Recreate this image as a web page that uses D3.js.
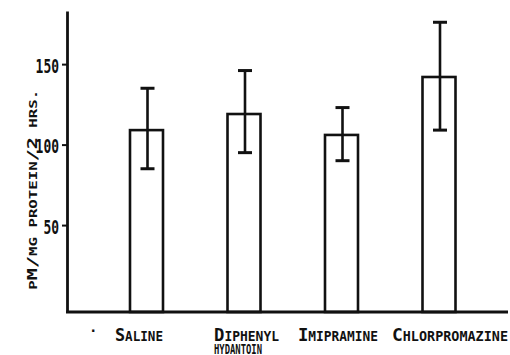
<!DOCTYPE html>
<html>
<head>
<meta charset="utf-8">
<script src="https://cdn.jsdelivr.net/npm/d3@7"></script>
<style>
  body { margin: 0; background: #fff; }
  text { font-family: "DejaVu Sans Mono", monospace; font-weight: bold; fill: #111; }
</style>
</head>
<body>
<div id="chart"></div>
<script>
// values
const categories = ["Saline", "Diphenyl Hydantoin", "Imipramine", "Chlorpromazine"]
const labelLines = [["Saline"], ["Diphenyl", "hydantoin"], ["Imipramine"], ["Chlorpromazine"]]
const means = [109, 119, 106, 142]
const errLow = [85, 95, 90, 109]
const errHigh = [135, 146, 123, 176]
const yTicks = [50, 100, 150]
const yTitle = "pM/mg protein/2 hrs."

const width = 510
const height = 355
const ink = "#111"

const svg = d3.select("#chart")
  .append("svg")
  .attr("width", width)
  .attr("height", height)

const yScale = d3.scaleLinear()
  .domain([-4, 183])
  .range([312, 11])

const xScale = d3.scalePoint()
  .domain(categories)
  .range([146.5, 439])

const barWidth = 33

const data = categories.map((c, i) => ({
  name: c, lines: labelLines[i], mean: means[i], lo: errLow[i], hi: errHigh[i]
}))

// lettering-guide style small caps: lowercase -> smaller capitals
function smallCaps(text, str, big, small) {
  const runs = []
  for (const ch of str) {
    const isSmall = ch !== ch.toUpperCase() || ch === " " || ch === "."
    const last = runs[runs.length - 1]
    if (last && last.small === isSmall) last.s += ch
    else runs.push({small: isSmall, s: ch})
  }
  runs.forEach(r => {
    text.append("tspan")
      .attr("font-size", r.small ? small : big)
      .text(r.s.toUpperCase())
  })
}

// bars
svg.append("g")
  .selectAll("rect")
  .data(data)
  .join("rect")
  .attr("x", d => xScale(d.name) - barWidth / 2)
  .attr("y", d => yScale(d.mean))
  .attr("width", barWidth)
  .attr("height", d => yScale(-4) - yScale(d.mean))
  .attr("fill", "none")
  .attr("stroke", ink)
  .attr("stroke-width", 2.6)

// error bars
const err = svg.append("g")
  .attr("stroke", ink)
  .attr("stroke-width", 2.6)

err.selectAll(".whisker")
  .data(data)
  .join("line")
  .attr("class", "whisker")
  .attr("x1", d => xScale(d.name) + 1)
  .attr("x2", d => xScale(d.name) + 1)
  .attr("y1", d => yScale(d.lo))
  .attr("y2", d => yScale(d.hi))

err.selectAll(".cap")
  .data(data.flatMap(d => [{name: d.name, v: d.lo}, {name: d.name, v: d.hi}]))
  .join("line")
  .attr("class", "cap")
  .attr("x1", d => xScale(d.name) + 1 - 7)
  .attr("x2", d => xScale(d.name) + 1 + 7)
  .attr("y1", d => yScale(d.v))
  .attr("y2", d => yScale(d.v))
  .attr("stroke-width", 3)

// y axis
const yAxis = d3.axisLeft(yScale)
  .tickValues(yTicks)
  .tickSize(5)
  .tickSizeOuter(0)
  .tickPadding(3)

const gy = svg.append("g")
  .attr("transform", "translate(67,0)")
  .call(yAxis)

gy.select(".domain").attr("stroke", ink).attr("stroke-width", 2.8)
gy.selectAll(".tick line").attr("stroke", ink).attr("stroke-width", 2)
gy.selectAll(".tick text")
  .attr("font-family", "DejaVu Sans Mono")
  .attr("font-weight", "bold")
  .attr("font-size", 19)
  .attr("fill", ink)
  .attr("dy", "0.42em")
  .attr("textLength", d => String(d).length * 7.8)
  .attr("lengthAdjust", "spacingAndGlyphs")

// baseline
svg.append("line")
  .attr("x1", 66)
  .attr("x2", 508)
  .attr("y1", yScale(-4))
  .attr("y2", yScale(-4))
  .attr("stroke", ink)
  .attr("stroke-width", 2.8)

// y title
const title = svg.append("text")
  .attr("transform", `translate(37,${yScale(72)}) rotate(-90)`)
  .attr("text-anchor", "middle")
  .attr("textLength", 200)
  .attr("lengthAdjust", "spacingAndGlyphs")
smallCaps(title, yTitle, 14, 11)

// category labels
const labelStart = {"Saline": -31.5, "Diphenyl Hydantoin": -30, "Imipramine": -43.5, "Chlorpromazine": -47}
const labelWidth = [[48], [65, 48], [80], [116]]

svg.append("g")
  .selectAll("text")
  .data(data.flatMap((d, i) => d.lines.map((t, j) => ({name: d.name, t, j, w: labelWidth[i][j]}))))
  .join("text")
  .attr("x", d => xScale(d.name) + labelStart[d.name])
  .attr("y", d => 341 + d.j * 12.5)
  .attr("textLength", d => d.w)
  .attr("lengthAdjust", "spacingAndGlyphs")
  .each(function(d) { smallCaps(d3.select(this), d.t, 18, 13.5) })

svg.append("text")
  .attr("x", 89)
  .attr("y", 336)
  .attr("font-size", 14)
  .text("·")
</script>
</body>
</html>
